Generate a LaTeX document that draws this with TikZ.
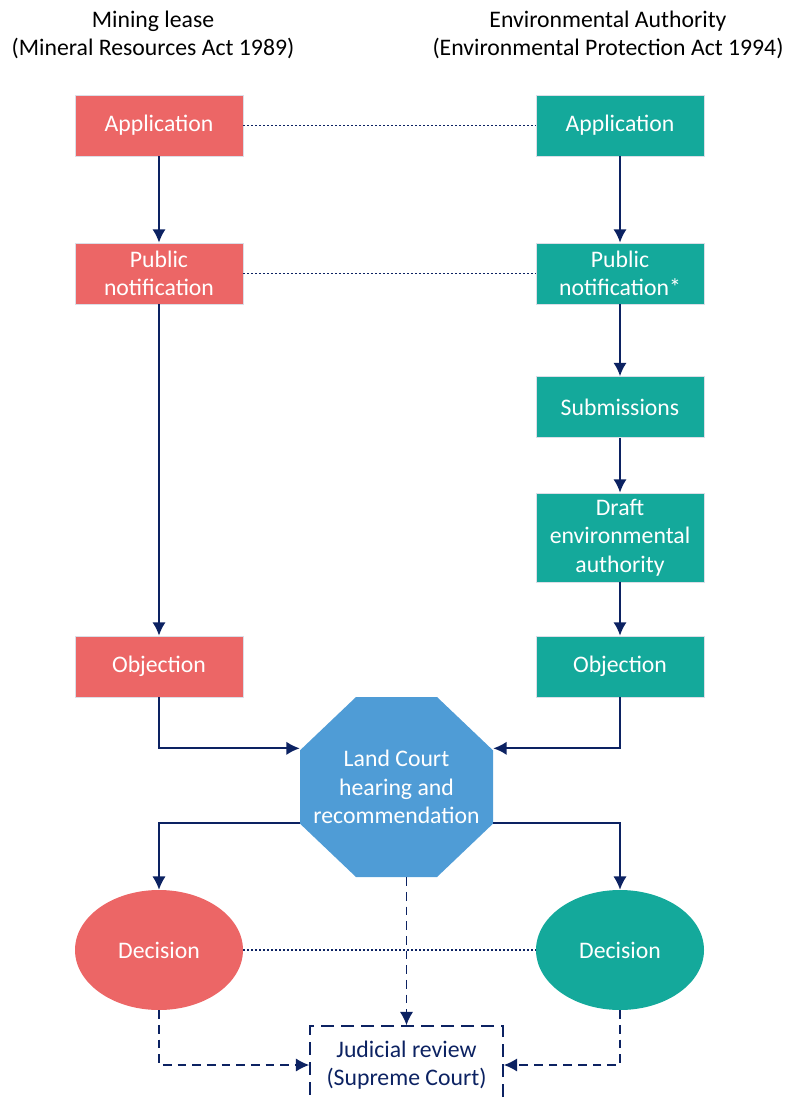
\documentclass[tikz,border=0pt]{standalone}
\usepackage{fontspec}
\setmainfont{Carlito}
\usetikzlibrary{positioning, shapes.geometric, arrows.meta}
\definecolor{leasered}{HTML}{EC6666}
\definecolor{eateal}{HTML}{14A99B}
\definecolor{courtblue}{HTML}{4F9CD6}
\definecolor{navy}{HTML}{0C2262}
\tikzstyle{block} = [draw=white!85!navy, line width=0.6pt, rectangle, minimum height=45.75pt, minimum width=126pt, inner sep=0pt, text=white, align=center]
\tikzstyle{lease} = [block, fill=leasered]
\tikzstyle{authority} = [block, fill=eateal]
\tikzstyle{decision} = [ellipse, minimum width=126pt, minimum height=90pt, inner sep=0pt, text=white]
\tikzstyle{flow} = [->, draw=navy, line width=1.3pt]
\tikzstyle{link} = [draw=navy, line width=1pt, dash pattern=on 1.5pt off 1.5pt]
\tikzstyle{appeal} = [->, draw=navy, line width=1.2pt, dash pattern=on 6.5pt off 4.5pt]
\tikzstyle{title} = [align=center, text=black]

\begin{document}
\begin{tikzpicture}[x=0.75pt, y=-0.75pt, >={Latex[length=10pt, width=10pt]}, font=\fontsize{17.8}{21.5}\selectfont]
	\useasboundingbox (0,0) rectangle (785,1099);

	\node [title] (leasetitle) at (153,35) {Mining lease\\(Mineral Resources Act 1989)};
	\node [title] (authtitle) at (608,35) {Environmental Authority\\(Environmental Protection Act 1994)};

	% mining lease column
	\node [lease] (appL) at (159,125.5) {Application};
	\node [lease] (pubL) at (159,273.5) {Public\\notification};
	\node [lease] (objL) at (159,666.5) {Objection};
	\node [decision, fill=leasered] (decL) at (159,950) {Decision};

	% environmental authority column
	\node [authority] (appR) at (620,125.5) {Application};
	\node [authority] (pubR) at (620,273.5) {Public\\notification*};
	\node [authority] (subR) at (620,407) {Submissions};
	\node [authority, minimum height=66.75pt] (draftR) at (620,537.5) {Draft\\environmental\\authority};
	\node [authority] (objR) at (620,666.5) {Objection};
	\node [decision, fill=eateal] (decR) at (620,950) {Decision};

	\node [text=white, align=center, inner sep=0pt, minimum width=144.75pt, minimum height=135pt,
		path picture={\fill [courtblue]
			([xshift=42pt]path picture bounding box.north west) -- ([xshift=-42pt]path picture bounding box.north east)
			-- ([yshift=-40pt]path picture bounding box.north east) -- ([yshift=40pt]path picture bounding box.south east)
			-- ([xshift=-42pt]path picture bounding box.south east) -- ([xshift=42pt]path picture bounding box.south west)
			-- ([yshift=40pt]path picture bounding box.south west) -- ([yshift=-40pt]path picture bounding box.north west) -- cycle;}]
		(court) at (396.5,787) {Land Court\\hearing and\\recommendation};

	\node [draw=navy, line width=1.2pt, dash pattern=on 10pt off 5pt, text=navy, align=center, minimum width=144.75pt, minimum height=58.5pt] (review) at (406.5,1065) {Judicial review\\(Supreme Court)};

	\draw [link] (appL) -- (appR);
	\draw [link] (pubL) -- (pubR);
	\draw [link] (decL) -- (decR);

	\draw [flow] (appL) -- (pubL);
	\draw [flow] (pubL) -- (objL);
	\draw [flow] (appR) -- (pubR);
	\draw [flow] (pubR) -- (subR);
	\draw [flow] (subR) -- (draftR);
	\draw [flow] (draftR) -- (objR);

	\draw [flow] (objL) |- ([yshift=29pt]court.west);
	\draw [flow] (objR) |- ([yshift=29pt]court.east);
	\draw [flow] ([yshift=-27pt]court.west) -| (decL);
	\draw [flow] ([yshift=-27pt]court.east) -| (decR);

	\draw [appeal] (court.south -| review.north) -- (review.north);
	\draw [appeal] (decL) |- (review.west);
	\draw [appeal] (decR) |- (review.east);
\end{tikzpicture}
\end{document}
